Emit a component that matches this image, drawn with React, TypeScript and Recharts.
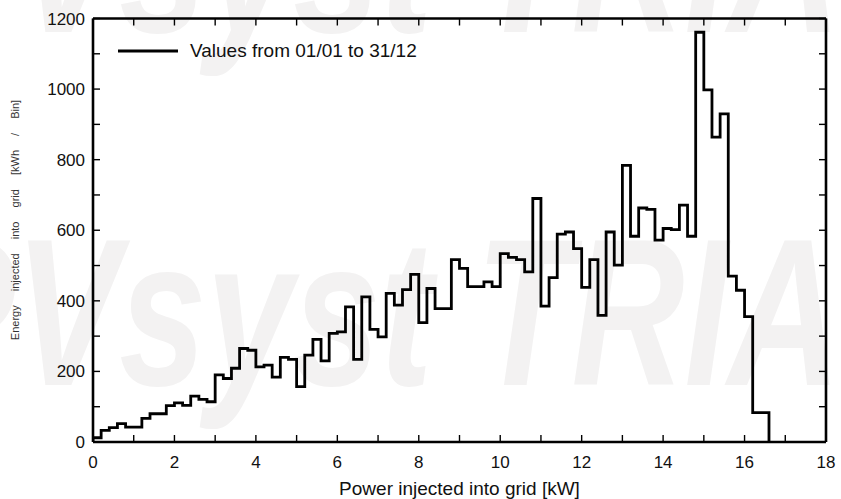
import React from 'react';
import { LineChart, Line, XAxis, YAxis, Legend, Label } from 'recharts';

// histogram of injected power, bins of 0.2 kW starting at 0
const binWidth = 0.2;
const energyPerBin = [
  12, 33, 41, 52, 42, 42, 67, 80, 80, 103,
  111, 104, 130, 121, 114, 190, 180, 209, 265, 260,
  213, 218, 184, 240, 234, 157, 246, 291, 230, 308,
  312, 383, 234, 411, 319, 298, 421, 388, 432, 475,
  338, 435, 378, 378, 517, 492, 440, 440, 454, 440,
  534, 523, 517, 482, 690, 385, 466, 589, 595, 548,
  438, 517, 359, 595, 501, 784, 583, 663, 659, 572,
  605, 602, 671, 583, 1161, 998, 864, 930, 470, 430,
  355, 83, 83,
];
const xTicks = [0, 1, 2, 3, 4, 5, 6, 7, 8, 9, 10, 11, 12, 13, 14, 15, 16, 17, 18];
const yTicks = [0, 100, 200, 300, 400, 500, 600, 700, 800, 900, 1000, 1100, 1200];
const legendText = 'Values from 01/01 to 31/12';
const watermark = 'PVsyst TRIAL';

const lastEdge = +(energyPerBin.length * binWidth).toFixed(1);
const data = [
  { power: 0, energy: 0 },
  ...energyPerBin.map((v, i) => ({ power: +(i * binWidth).toFixed(1), energy: v })),
  { power: lastEdge, energy: 0 },
];

const font = '"Liberation Sans", Arial, sans-serif';
const axisLine = { stroke: '#000', strokeWidth: 2.6 };
const tickLine = { stroke: '#000', strokeWidth: 1.4 };

const LegendBox = () => (
  <div style={{ display: 'flex', alignItems: 'center', fontFamily: font, fontSize: 19, color: '#111' }}>
    <svg width={60} height={6} style={{ marginRight: 12 }}>
      <line x1={0} y1={3} x2={60} y2={3} stroke="#000" strokeWidth={2.8} />
    </svg>
    <span>{legendText}</span>
  </div>
);

const YTitle = () => (
  <text
    x={15}
    y={220}
    transform="rotate(-90 15 220)"
    textAnchor="middle"
    dominantBaseline="central"
    fontFamily={font}
    fontSize={11}
    fill="#333"
    style={{ wordSpacing: 11, whiteSpace: 'pre' }}
  >
    Energy injected into grid [kWh / Bin]
  </text>
);

export default function App() {
  return (
    <div style={{ position: 'absolute', left: 0, top: 0, width: 841, height: 499, background: '#fff', fontFamily: font }}>
      <svg width={841} height={499} style={{ position: 'absolute', left: 0, top: 0 }}>
        <g transform="scale(0.745 1)" fontSize={210} fontStyle="italic" fontWeight="bold" fill="#f3f2f2" fontFamily={font}>
          <text x={-120} y={32}>{watermark}</text>
          <text x={-120} y={385}>{watermark}</text>
        </g>
      </svg>
      <div style={{ position: 'absolute', left: 0, top: 0 }}>
        <LineChart width={841} height={499} data={data} margin={{ top: 13.5, right: 10, bottom: 2, left: 33 }}>
          <XAxis
            dataKey="power"
            type="number"
            domain={[0, 18]}
            ticks={xTicks}
            interval={0}
            allowDataOverflow
            height={55}
            tickSize={-7}
            tickMargin={21}
            axisLine={axisLine}
            tickLine={tickLine}
            tick={{ fill: '#111', fontSize: 17, fontFamily: font }}
            tickFormatter={(v: number) => (v % 2 === 0 ? String(v) : '')}
          >
            <Label value="Power injected into grid [kW]" position="insideBottom" offset={2} fill="#111" fontSize={19} fontFamily={font} />
          </XAxis>
          <XAxis
            xAxisId="top"
            orientation="top"
            dataKey="power"
            type="number"
            domain={[0, 18]}
            ticks={xTicks}
            interval={0}
            allowDataOverflow
            height={5}
            tickSize={-7}
            axisLine={axisLine}
            tickLine={tickLine}
            tickFormatter={() => ''}
          />
          <YAxis
            type="number"
            domain={[0, 1200]}
            ticks={yTicks}
            interval={0}
            allowDataOverflow
            width={60}
            tickSize={-7}
            tickMargin={15}
            axisLine={axisLine}
            tickLine={tickLine}
            tick={{ fill: '#111', fontSize: 17, fontFamily: font }}
            tickFormatter={(v: number) => (v % 200 === 0 ? String(v) : '')}
          >
            <Label content={<YTitle />} />
          </YAxis>
          <YAxis
            yAxisId="right"
            orientation="right"
            type="number"
            domain={[0, 1200]}
            ticks={yTicks}
            interval={0}
            allowDataOverflow
            width={5}
            tickSize={-7}
            axisLine={axisLine}
            tickLine={tickLine}
            tickFormatter={() => ''}
          />
          <Legend
            layout="vertical"
            align="center"
            verticalAlign="middle"
            content={<LegendBox />}
            wrapperStyle={{ left: 118, top: 40, width: 'auto' }}
          />
          <Line
            dataKey="energy"
            type="stepAfter"
            stroke="#000"
            strokeWidth={2.8}
            dot={false}
            activeDot={false}
            isAnimationActive={false}
            name={legendText}
          />
        </LineChart>
      </div>
    </div>
  );
}
